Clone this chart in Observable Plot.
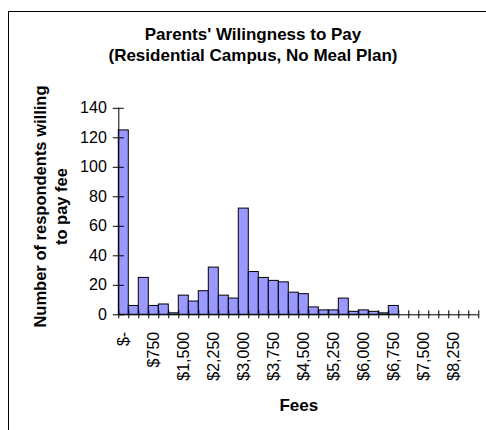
<!DOCTYPE html>
<html>
<head>
<meta charset="utf-8">
<script src="https://cdn.jsdelivr.net/npm/d3@7"></script>
<script src="https://cdn.jsdelivr.net/npm/@observablehq/plot@0.6"></script>
<style>
  html, body { margin: 0; padding: 0; background: #fff; overflow: hidden; }
  #wrap { position: relative; width: 486px; height: 430px; overflow: hidden; background: #fff; }
  #box { position: absolute; left: 8px; top: 11px; width: 700px; height: 700px;
         border: 1.5px solid #000; box-sizing: border-box; }
  #chart { position: absolute; left: 0; top: 0; }
</style>
</head>
<body>
<div id="wrap">
  <div id="box"></div>
  <div id="chart"></div>
</div>
<script>
// Fee levels (lower edge of each $250 bracket)
const fees = [
  0, 250, 500, 750, 1000, 1250, 1500, 1750, 2000, 2250, 2500, 2750,
  3000, 3250, 3500, 3750, 4000, 4250, 4500, 4750, 5000, 5250, 5500, 5750,
  6000, 6250, 6500, 6750, 7000, 7250, 7500, 7750, 8000, 8250, 8500, 8750
];
// Number of respondents willing to pay each fee
const counts = [
  125, 6, 25, 6, 7, 1, 13, 9, 16, 32, 13, 11,
  72, 29, 25, 23, 22, 15, 14, 5, 3, 3, 11, 2,
  3, 2, 1, 6, 0, 0, 0, 0, 0, 0, 0, 0
];
// Fees that carry a tick label
const labelFees = [0, 750, 1500, 2250, 3000, 3750, 4500, 5250, 6000, 6750, 7500, 8250];
const yTicks = [0, 20, 40, 60, 80, 100, 120, 140];
const binWidth = 250;

const titleText = "Parents' Wilingness to Pay\n(Residential Campus, No Meal Plan)";
const yTitle = "Number of respondents willing\nto pay fee";
const xTitle = "Fees";

const data = fees.map((fee, i) => ({fee, count: counts[i]}));
const binEdges = fees.concat([fees[fees.length - 1] + binWidth]);
const fmtFee = d => d === 0 ? "$-" : "$" + d3.format(",")(d);

const chart = Plot.plot({
  width: 486,
  height: 430,
  marginLeft: 118.3,
  marginRight: 7.7,
  marginTop: 107.8,
  marginBottom: 115.7,
  style: {
    fontFamily: "'Liberation Sans', Arial, sans-serif",
    fontSize: "16px",
    color: "#000",
    background: "transparent",
    overflow: "visible"
  },
  x: {domain: [0, binEdges[binEdges.length - 1]], axis: null},
  y: {domain: [0, 140], axis: null},
  marks: [
    Plot.rectY(data, {
      x1: "fee",
      x2: d => d.fee + binWidth,
      y: "count",
      fill: "#9999ff",
      stroke: "#000",
      strokeWidth: 1
    }),
    Plot.ruleX([0], {stroke: "#000"}),
    Plot.ruleY([0], {stroke: "#000"}),
    // cross tick marks on both axes
    Plot.axisY(yTicks, {tickSize: 11, dx: 5.5, fill: "none", stroke: "#000", label: null}),
    Plot.axisY(yTicks, {tickSize: 0, tickPadding: 12, fill: "#000", fontSize: 16, label: null}),
    Plot.axisX(binEdges, {tickSize: 8, dy: -4, fill: "none", stroke: "#000", label: null}),
    // rotated fee labels at bracket centres
    Plot.text(labelFees, {
      x: d => d + binWidth / 2,
      text: fmtFee,
      frameAnchor: "bottom",
      rotate: -90,
      textAnchor: "end",
      lineAnchor: "middle",
      dy: 17,
      fontSize: 16,
      fill: "#000"
    }),
    // titles
    Plot.text([titleText], {
      text: d => d,
      frameAnchor: "top",
      dx: -45.8,
      dy: -64.3,
      lineAnchor: "middle",
      lineHeight: 1.25,
      fontWeight: "bold",
      fontSize: 17,
      fill: "#000"
    }),
    Plot.text([yTitle], {
      text: d => d,
      frameAnchor: "left",
      rotate: -90,
      dx: -69,
      dy: -5,
      lineAnchor: "middle",
      textAnchor: "middle",
      lineHeight: 1.25,
      fontWeight: "bold",
      fontSize: 16.5,
      fill: "#000"
    }),
    Plot.text([xTitle], {
      text: d => d,
      frameAnchor: "bottom",
      dy: 90.7,
      lineAnchor: "middle",
      fontWeight: "bold",
      fontSize: 17,
      fill: "#000"
    })
  ]
});

document.getElementById("chart").appendChild(chart);
</script>
</body>
</html>
